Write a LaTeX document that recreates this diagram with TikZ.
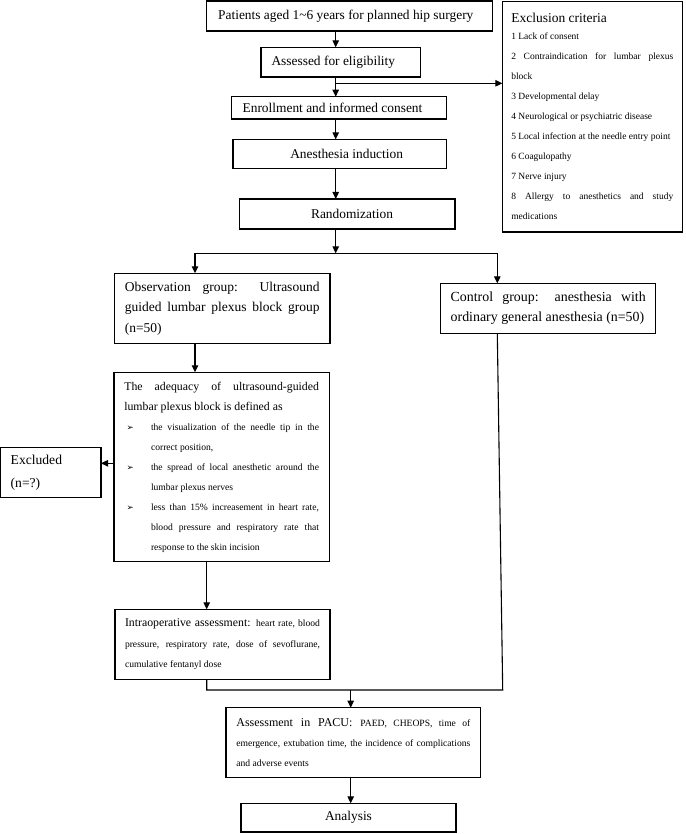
\documentclass[tikz,border=0pt]{standalone}
\usepackage{fontspec}
\setmainfont{Liberation Serif}
\newfontfamily\dejavu{DejaVu Sans}
\usetikzlibrary{arrows.meta}
\newcommand{\bigf}{\fontsize{13.4}{16}\selectfont}
\newcommand{\smallf}{\fontsize{9.6}{20}\selectfont}
\newcommand{\setpar}{\parindent=0pt\parskip=0pt\tolerance=10000\hbadness=10000\relax}
\newcommand{\itm}[1]{\par\hangindent=26.7pt\hangafter=1\noindent\makebox[26.7pt][l]{\hspace{2.2pt}{\dejavu\fontsize{8.5}{9}\selectfont ➢}}#1\par}
\tikzset{
  box/.style={draw, line width=1.1pt, inner sep=0pt, outer sep=0pt},
  arr/.style={line width=1.1pt, -{Triangle[length=7pt,width=6.5pt]}},
  ln/.style={line width=1.1pt}
}
\begin{document}
\begin{tikzpicture}[x=1pt,y=-1pt]
\useasboundingbox (0,0) rectangle (685,834);
% top column
\node[box, minimum width=286.3pt, minimum height=30pt, font=\bigf] (patients) at (349.2,16) {Patients aged 1\char"007E 6 years for planned hip surgery\hspace*{6.8pt}};
\node[box, minimum width=159.7pt, minimum height=29.7pt, font=\bigf] (assess) at (340.85,62.15) {Assessed for eligibility\hspace*{15pt}};
\node[box, minimum width=215pt, minimum height=22.3pt, font=\bigf] (enroll) at (339.2,107.85) {Enrollment and informed consent\hspace*{13.4pt}};
\node[box, minimum width=213.7pt, minimum height=29pt, font=\bigf] (induct) at (339.85,153.8) {\hspace*{13.6pt}Anesthesia induction};
\node[box, minimum width=215.7pt, minimum height=30pt, font=\bigf] (random) at (347.15,214) {\hspace*{9.7pt}Randomization};
% exclusion criteria
\node[box, minimum width=180pt, minimum height=230.3pt, text width=162pt, inner xsep=9pt, align=justify] (exclusion) at (592.3,116.85) {\setpar
{\fontsize{13.5}{16}\selectfont Exclusion criteria\par}\vspace{-3pt}
{\fontsize{9.5}{20}\selectfont
1 Lack of consent\par
2 Contraindication for lumbar plexus\linebreak block\par
3 Developmental delay\par
4 Neurological or psychiatric disease\par
5 Local infection at the needle entry point\par
6 Coagulopathy\par
7 Nerve injury\par
8 Allergy to anesthetics and study\linebreak medications\par}};
% groups
\node[box, minimum width=215.7pt, minimum height=70pt, text width=194.7pt, inner xsep=10.5pt, align=justify] (obs) at (222.15,308.3) {\setpar{\fontsize{13.5}{20.5}\selectfont Observation group: Ultrasound\linebreak guided lumbar plexus block group\linebreak (n=50)\par}};
\node[box, minimum width=215pt, minimum height=50pt, text width=195pt, inner xsep=10pt, align=justify] (ctrl) at (548.2,308.3) {\setpar{\fontsize{13.9}{20}\selectfont Control group: anesthesia with\linebreak ordinary general anesthesia (n=50)\par}};
% adequacy
\node[box, minimum width=215.3pt, minimum height=189.4pt, text width=194.7pt, inner xsep=10.3pt, align=justify] (adeq) at (221.65,467) {\setpar
{\fontsize{11.8}{20}\selectfont The adequacy of ultrasound-guided\linebreak lumbar plexus block is defined as\par}
{\smallf
\itm{the visualization of the needle tip in the\linebreak correct position,}
\itm{the spread of local anesthetic around the\linebreak lumbar plexus nerves}
\itm{less than 15\% increasement in heart rate,\linebreak blood pressure and respiratory rate that\linebreak response to the skin incision}}};
\node[box, minimum width=100.3pt, minimum height=49.6pt, text width=80.3pt, inner xsep=10pt, align=left] (excl) at (50.85,472.5) {\setpar{\fontsize{13.6}{22.7}\selectfont Excluded\par (n=?)\par}};
% intraoperative
\node[box, minimum width=215pt, minimum height=70pt, text width=195pt, inner xsep=10pt, align=justify] (intra) at (222.5,644.3) {\setpar{\fontsize{11.8}{20.5}\selectfont Intraoperative assessment: \fontsize{9.6}{20.5}\selectfont heart rate, blood\linebreak pressure, respiratory rate, dose of sevoflurane,\linebreak cumulative fentanyl dose\par}};
\node[box, minimum width=254.7pt, minimum height=70pt, text width=234pt, inner xsep=10.35pt, align=justify] (pacu) at (353.35,742.7) {\setpar{\fontsize{12}{20}\selectfont Assessment in PACU: \fontsize{9.6}{20}\selectfont PAED, CHEOPS, time of\linebreak emergence, extubation time, the incidence of complications\linebreak and adverse events\par}};
\node[box, minimum width=215pt, minimum height=28.7pt, font=\bigf] (analysis) at (348.5,817.65) {Analysis};
% coordinates
\coordinate (c1) at (335.7,0);
\coordinate (b1) at (335.7,83.3);
\coordinate (b2) at (335.7,253.3);
\coordinate (cL) at (195,253.3);
\coordinate (cR) at (497.3,253.3);
\coordinate (cA) at (206.7,0);
\coordinate (e1) at (0,463.3);
\coordinate (m1) at (206.7,690);
\coordinate (m2) at (502.7,690);
\coordinate (m3) at (350.7,690);
% connectors
\draw[arr] (patients.south -| c1) -- (assess.north -| c1);
\draw[arr] (assess.south -| c1) -- (enroll.north -| c1);
\draw[arr] (b1) -- (b1 -| exclusion.west);
\draw[arr] (enroll.south -| c1) -- (induct.north -| c1);
\draw[arr] (induct.south -| c1) -- (random.north -| c1);
\draw[arr] (random.south -| c1) -- (b2);
\draw[ln] (cL) -- (cR);
\draw[arr] (cL) -- (obs.north -| cL);
\draw[arr] (cR) -- (ctrl.north -| cR);
\draw[arr] (obs.south -| cL) -- (adeq.north -| cL);
\draw[arr] (adeq.west |- e1) -- (excl.east |- e1);
\draw[arr] (adeq.south -| cA) -- (intra.north -| cA);
\draw[ln] (intra.south -| cA) -- (m1) -- (m2) -- (ctrl.south -| cR);
\draw[arr] (m3) -- (pacu.north -| m3);
\draw[arr] (pacu.south -| m3) -- (analysis.north -| m3);
\end{tikzpicture}
\end{document}
